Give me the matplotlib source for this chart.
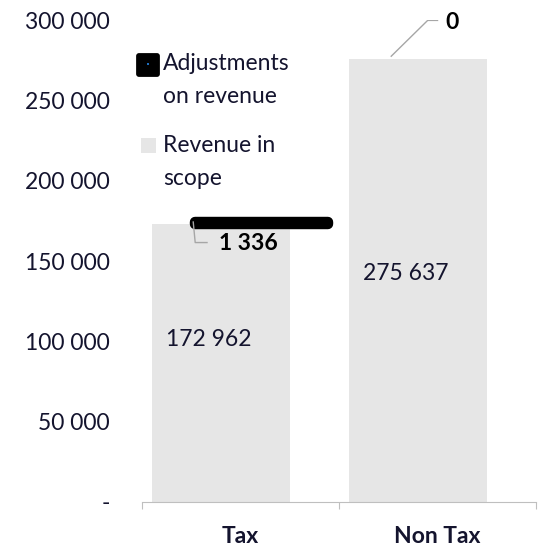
import matplotlib.pyplot as plt
from matplotlib.patches import Rectangle, FancyBboxPatch

categories = ['Tax', 'Non Tax']
revenue = [172962, 275637]
adjustments = [1336, 0]
yticks = [0, 50000, 100000, 150000, 200000, 250000, 300000]
yticklabels = ['-', '50 000', '100 000', '150 000', '200 000', '250 000', '300 000']

txt = '#14142e'
grey = '#e6e6e6'
fs = 16.5
plt.rcParams['font.family'] = ['Lato', 'DejaVu Sans']

fig = plt.figure(figsize=(5.42, 5.47), dpi=100)
ax = fig.add_axes([0.262, 0.0823, 0.727, 0.881])

x = [0, 1]
ax.bar([i - 0.1 for i in x], revenue, width=0.7, color=grey, zorder=1)
# adjustment segment, drawn as thin bar with heavy rounded outline
ax.bar([x[0] + 0.107], [adjustments[0]], bottom=[revenue[0]], width=0.675,
       color='#1f6fbf', edgecolor='black', linewidth=7.5, joinstyle='round', zorder=3)

ax.set_xlim(-0.5, 1.5)
ax.set_ylim(0, 300000)
ax.set_yticks(yticks)
ax.set_yticklabels(yticklabels, fontsize=fs, color=txt)
ax.tick_params(axis='y', length=0, pad=23)
ax.set_xticks([-0.5, 0.5, 1.5])
ax.set_xticklabels([])
ax.set_xticks(x, minor=True)
ax.set_xticklabels(categories, minor=True, fontsize=fs, fontweight='bold', color=txt)
ax.tick_params(axis='x', which='major', length=5, color='#bfbfbf', direction='out')
ax.tick_params(axis='x', which='minor', length=0, pad=17)
for s in ['top', 'right', 'left']:
    ax.spines[s].set_visible(False)
ax.spines['bottom'].set_color('#bfbfbf')

# value labels
ax.text(-0.16, 101400, '172 962', ha='center', va='center', fontsize=fs, color=txt)
ax.text(0.84, 142500, '275 637', ha='center', va='center', fontsize=fs, color=txt)

lead = '#a6a6a6'
ax.plot([-0.24, -0.23, -0.17], [174300, 161500, 161500], color=lead, lw=1, zorder=4)
ax.text(0.04, 161200, '1 336', ha='center', va='center', fontsize=fs,
        fontweight='bold', color='black')
ax.plot([0.765, 0.95, 1.0], [277500, 299800, 299800], color=lead, lw=1, zorder=4)
ax.text(1.075, 298700, '0', ha='center', va='center', fontsize=fs,
        fontweight='bold', color='black', clip_on=False)

# legend drawn by hand
fig.patches.append(FancyBboxPatch((139 / 542, 1 - 74 / 547), 18 / 542, 18 / 547,
                                  boxstyle='round,pad=0.004',
                                  transform=fig.transFigure, facecolor='black',
                                  edgecolor='black', linewidth=1))
fig.patches.append(Rectangle((147 / 542, 1 - 65 / 547), 2 / 542, 2 / 547,
                             transform=fig.transFigure, facecolor='#1f6fbf',
                             edgecolor='none'))
fig.text(163 / 542, 1 - 80 / 547, 'Adjustments\non revenue', fontsize=fs,
         color=txt, va='center', linespacing=1.75)
fig.patches.append(Rectangle((141 / 542, 1 - 153 / 547), 15 / 542, 15 / 547,
                             transform=fig.transFigure, facecolor=grey))
fig.text(163 / 542, 1 - 162 / 547, 'Revenue in\nscope', fontsize=fs,
         color=txt, va='center', linespacing=1.75)

fig.savefig('out.png', dpi=100)
